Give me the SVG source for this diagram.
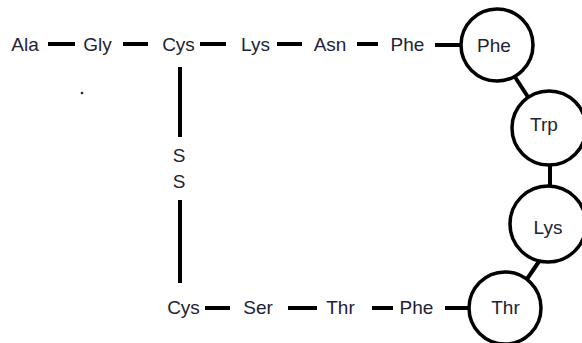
<svg xmlns="http://www.w3.org/2000/svg" width="582" height="343" viewBox="0 0 582 343">
<style>
  text { font-family: "Liberation Sans", Arial, sans-serif; font-size: 19px; fill: #222233; text-anchor: middle; }
  .bond { stroke: #000; stroke-width: 4; stroke-linecap: butt; fill: none; }
  .ring { stroke: #000; stroke-width: 3.5; fill: #fff; }
</style>
<rect width="582" height="343" fill="#fff"/>
<g id="connectors">
  <line class="bond" x1="48" y1="44" x2="75" y2="44"/>
  <line class="bond" x1="123" y1="44" x2="148" y2="44"/>
  <line class="bond" x1="200" y1="44" x2="226" y2="44"/>
  <line class="bond" x1="277" y1="44" x2="302" y2="44"/>
  <line class="bond" x1="357" y1="44" x2="378" y2="44"/>
  <line class="bond" x1="435" y1="45" x2="462" y2="45"/>
  <line class="bond" x1="515" y1="77" x2="528" y2="97"/>
  <line class="bond" x1="550" y1="164" x2="550" y2="187"/>
  <line class="bond" x1="540" y1="260" x2="527" y2="279"/>
  <line class="bond" x1="180" y1="67" x2="180" y2="137"/>
  <line class="bond" x1="180" y1="200" x2="180" y2="283"/>
  <line class="bond" x1="205" y1="308" x2="230" y2="308"/>
  <line class="bond" x1="288" y1="308" x2="317" y2="308"/>
  <line class="bond" x1="372" y1="308" x2="393" y2="308"/>
  <line class="bond" x1="445" y1="308" x2="470" y2="308"/>
</g>
<g id="n-ala"><text x="25" y="51">Ala</text></g>
<g id="n-gly"><text x="97.5" y="51">Gly</text></g>
<g id="n-cys1"><text x="178.5" y="51">Cys</text></g>
<g id="n-lys1"><text x="255.5" y="51">Lys</text></g>
<g id="n-asn"><text x="330" y="51">Asn</text></g>
<g id="n-phe1"><text x="407.5" y="51">Phe</text></g>
<g id="n-phe2"><circle class="ring" cx="497" cy="45" r="36"/><text x="494" y="52">Phe</text></g>
<g id="n-trp"><circle class="ring" cx="549" cy="128" r="37"/><text x="544" y="131">Trp</text></g>
<g id="n-lys2"><circle class="ring" cx="548" cy="224" r="38"/><text x="548" y="234">Lys</text></g>
<g id="n-thr2"><circle class="ring" cx="505" cy="308" r="36"/><text x="505.5" y="314">Thr</text></g>
<g id="n-s1"><text x="179" y="162">S</text></g>
<g id="n-s2"><text x="179" y="188">S</text></g>
<g id="n-cys2"><text x="183.5" y="314">Cys</text></g>
<g id="n-ser"><text x="258" y="314">Ser</text></g>
<g id="n-thr1"><text x="340.5" y="314">Thr</text></g>
<g id="n-phe3"><text x="416.5" y="314">Phe</text></g>
<circle cx="82" cy="93" r="1.3" fill="#222"/>
</svg>
